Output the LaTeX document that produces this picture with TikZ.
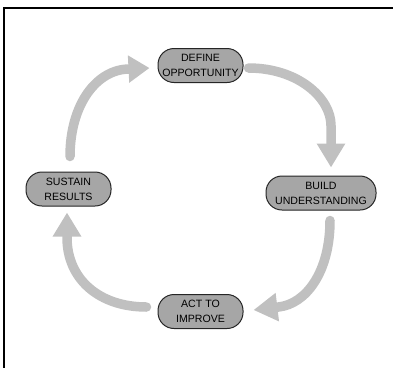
\documentclass[tikz,border=0pt]{standalone}
\usepackage{fontspec}
\setmainfont{Liberation Sans}
\usetikzlibrary{arrows.meta,calc}
\definecolor{boxfill}{HTML}{A6A6A6}
\definecolor{flowgray}{HTML}{C0C0C0}
\tikzset{
  phase/.style={draw=black!85, line width=1pt, fill=boxfill, rectangle,
    rounded corners=16pt, inner sep=0pt, align=center,
    font=\fontsize{10.6}{15}\selectfont, minimum height=34pt},
  flow/.style={draw=flowgray, line width=9.5pt, line cap=round,
    -{Triangle[length=24pt,width=27pt]}},
  frameline/.style={draw=black, line width=1.8pt}
}
\begin{document}
\begin{tikzpicture}[x=1pt,y=-1pt]
  \useasboundingbox (0,0) rectangle (393,368);
  % open frame: top and left edges
  \draw[frameline] (393,8) -- (4,8) -- (4,368);

  % the four phases
  \node[phase, minimum width=85pt]  (def) at (200.5,65.5) {DEFINE\\OPPORTUNITY};
  \node[phase, minimum width=110pt] (bld) at (321,193)    {BUILD\\UNDERSTANDING};
  \node[phase, minimum width=85pt]  (act) at (200.5,311.5) {ACT TO\\IMPROVE};
  \node[phase, minimum width=85pt]  (sus) at (68.5,189)   {SUSTAIN\\RESULTS};

  % cycle arrows
  \draw[flow] ($(def.east)+(5,2.5)$)
      .. controls (298,68) and (331,98) .. ($(bld.north)+(10,-50)$)
      -- ($(bld.north)+(10,-8)$);
  \draw[flow] ($(bld.south)+(9,10)$)
      .. controls (330,272) and (306,304) .. ($(act.east)+(35,-4.5)$)
      -- ($(act.east)+(10,-1.5)$);
  \draw[flow] ($(act.west)+(-11,-4.5)$)
      .. controls (99,307) and (67,279) .. ($(sus.south)+(-1.5,31)$)
      -- ($(sus.south)+(-1.5,6)$);
  \draw[flow, -{Triangle[length=21pt,width=26pt]}] ($(sus.north)+(1.5,-15)$)
      .. controls (70,104) and (97,69) .. ($(def.west)+(-28,3.5)$)
      -- ($(def.west)+(-8,2.5)$);
\end{tikzpicture}
\end{document}
